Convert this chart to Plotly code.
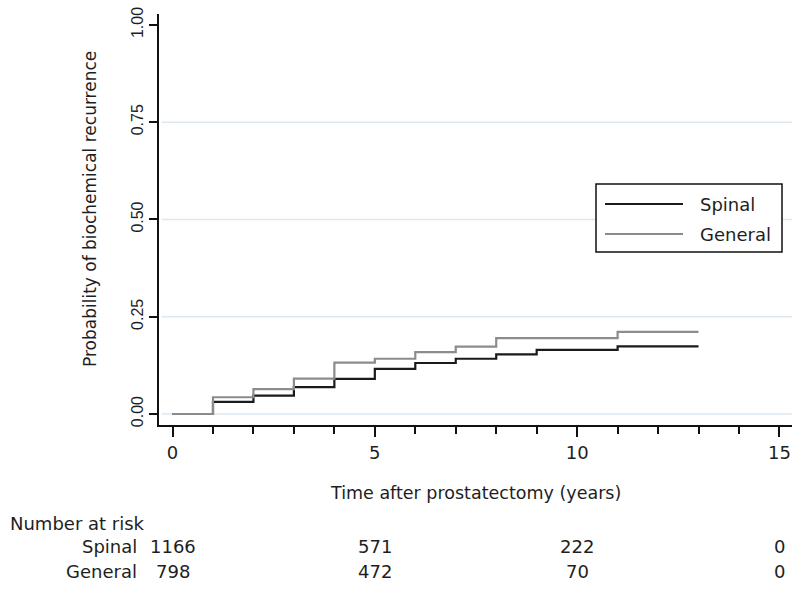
import plotly.graph_objects as go

# ---- data ----
spinal_time = [0, 1, 2, 3, 4, 5, 6, 7, 8, 9, 11, 13]
spinal_prob = [0, 0.031, 0.047, 0.069, 0.090, 0.116, 0.131, 0.142, 0.153, 0.165, 0.174, 0.174]
general_time = [0, 1, 2, 3, 4, 5, 6, 7, 8, 11, 13]
general_prob = [0, 0.043, 0.064, 0.091, 0.132, 0.142, 0.159, 0.173, 0.195, 0.211, 0.211]

risk_times = [0, 5, 10, 15]
risk_spinal = [1166, 571, 222, 0]
risk_general = [798, 472, 70, 0]
group_names = ["Spinal", "General"]
group_colors = ["#1a1a1a", "#8c8c8c"]

y_ticks = [0, 0.25, 0.5, 0.75, 1.0]
y_ticktext = ["0.00", "0.25", "0.50", "0.75", "1.00"]
grid_vals = [0, 0.25, 0.5, 0.75]
x_ticks = [0, 5, 10, 15]

W, H = 800, 589
L, R, T, B = 159, 8, 14, 164
PW, PH = W - L - R, H - T - B


def px(xp):
    return (xp - L) / PW


def py(yp):
    return (H - B - yp) / PH


FONT = "DejaVu Sans"
TXT = "#1e1e1e"

fig = go.Figure()
fig.add_trace(go.Scatter(x=spinal_time, y=spinal_prob, mode="lines", line_shape="hv",
                         name=group_names[0], line=dict(color=group_colors[0], width=2.2),
                         showlegend=False))
fig.add_trace(go.Scatter(x=general_time, y=general_prob, mode="lines", line_shape="hv",
                         name=group_names[1], line=dict(color=group_colors[1], width=2.2),
                         showlegend=False))

shapes = []
for g in grid_vals:
    shapes.append(dict(type="line", xref="paper", yref="y", x0=0.004, x1=1, y0=g, y1=g,
                       line=dict(color="#dde8f1", width=1.5), layer="below"))

# custom legend
shapes.append(dict(type="rect", xref="paper", yref="paper", x0=px(596), x1=px(782),
                   y0=py(252), y1=py(184), line=dict(color="#111", width=1.5),
                   fillcolor="white"))
leg_y = [204, 234]
annotations = []
for name, col, yy in zip(group_names, group_colors, leg_y):
    shapes.append(dict(type="line", xref="paper", yref="paper", x0=px(605), x1=px(683),
                       y0=py(yy), y1=py(yy), line=dict(color=col, width=2)))
    annotations.append(dict(xref="paper", yref="paper", x=px(698), y=py(yy), text=name,
                            showarrow=False, xanchor="left", yanchor="middle",
                            font=dict(family=FONT, size=18, color=TXT)))

# axis titles
annotations.append(dict(xref="paper", yref="paper", x=px(90), y=py(209),
                        text="Probability of biochemical recurrence", textangle=-90,
                        showarrow=False, xanchor="center", yanchor="middle",
                        font=dict(family=FONT, size=17, color=TXT)))
annotations.append(dict(xref="x", yref="paper", x=7.5, y=py(493),
                        text="Time after prostatectomy (years)",
                        showarrow=False, xanchor="center", yanchor="middle",
                        font=dict(family=FONT, size=17.5, color=TXT)))

# number at risk table
annotations.append(dict(xref="paper", yref="paper", x=px(8), y=py(523), text="Number at risk",
                        showarrow=False, xanchor="left", yanchor="middle",
                        font=dict(family=FONT, size=18, color=TXT)))
row_y = [546.5, 571.5]
for name, vals, yy in zip(group_names, [risk_spinal, risk_general], row_y):
    annotations.append(dict(xref="paper", yref="paper", x=px(139), y=py(yy), text=name,
                            showarrow=False, xanchor="right", yanchor="middle",
                            font=dict(family=FONT, size=18, color=TXT)))
    for t, v in zip(risk_times, vals):
        annotations.append(dict(xref="x", yref="paper", x=t, y=py(yy), text=str(v),
                                showarrow=False, xanchor="center", yanchor="middle",
                                font=dict(family=FONT, size=18, color=TXT)))

fig.update_layout(
    width=W, height=H,
    margin=dict(l=L, r=R, t=T, b=B),
    paper_bgcolor="white", plot_bgcolor="white",
    shapes=shapes, annotations=annotations,
    showlegend=False,
    xaxis=dict(range=[-0.334, 15.31], tickvals=x_ticks, showgrid=False, zeroline=False,
               showline=True, linecolor="#111", linewidth=2,
               ticks="outside", ticklen=10, tickwidth=1.5, tickcolor="#111",
               minor=dict(dtick=1, tick0=0, ticks="outside", ticklen=7, tickwidth=1.5,
                          tickcolor="#111", showgrid=False),
               tickfont=dict(family=FONT, size=18, color=TXT)),
    yaxis=dict(range=[-0.0283, 1.028], tickvals=y_ticks, ticktext=y_ticktext,
               showgrid=False, zeroline=False,
               showline=True, linecolor="#111", linewidth=2,
               ticks="outside", ticklen=8, tickwidth=1.5, tickcolor="#111",
               tickangle=-90,
               tickfont=dict(family="Liberation Sans", size=16, color=TXT)),
)

fig.write_html("out.html", config={"displayModeBar": False},
               post_script="document.body.style.margin='0';document.body.style.padding='0';")
